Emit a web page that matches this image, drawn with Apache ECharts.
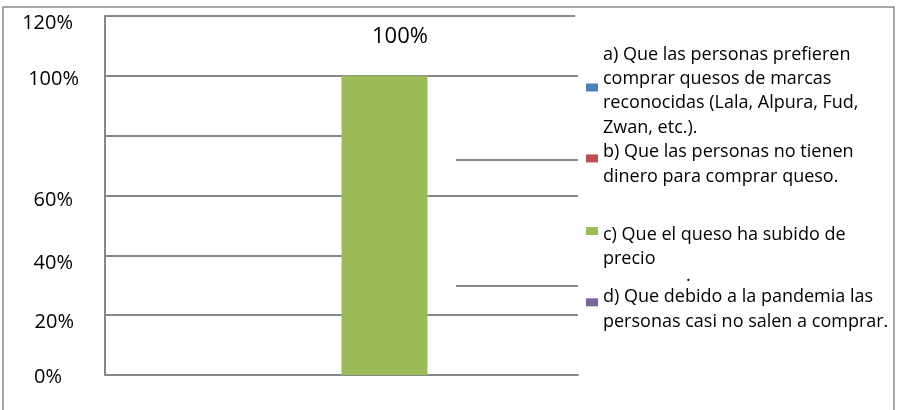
<!DOCTYPE html>
<html>
<head>
<meta charset="utf-8">
<script src="https://cdn.jsdelivr.net/npm/echarts@6/dist/echarts.min.js"></script>
<style>
  html, body { margin: 0; padding: 0; background: #fff; }
  #chart { width: 898px; height: 410px; }
</style>
</head>
<body>
<div id="chart"></div>
<script>
// Survey answers: why cheese sales dropped
const categories = ['Respuesta'];
const optionLabels = [
  'a) Que las personas prefieren\ncomprar quesos de marcas\nreconocidas (Lala, Alpura, Fud,\nZwan, etc.).',
  'b) Que las personas no tienen\ndinero para comprar queso.',
  'c) Que el queso ha subido de\nprecio',
  'd) Que debido a la pandemia las\npersonas casi no salen a comprar.'
];
const optionShares = [0, 0, 100, 0];
const optionColors = ['#4F81BD', '#C0504D', '#9BBB59', '#8064A2'];
const yTickValues = [0, 20, 40, 60, 80, 100, 120];
const yTickLabels = ['0%', '20%', '40%', '60%', '', '100%', '120%'];

const FONT = "'Open Sans', sans-serif";
const GRID_COLOR = '#878787';

// per-tick label nudges [dx, dy] in px
const tickNudge = { 0: [-12, 2], 20: [0, 7], 40: [-1, 7.5], 60: [-1, 4.5], 100: [5, 3.5], 120: [-1, 7] };
const BASE_RIGHT_PAD = 12;
const tickRich = {};
yTickValues.forEach(v => {
  const n = tickNudge[v] || [0, 0];
  tickRich['t' + v] = {
    fontFamily: FONT, fontSize: 20, color: '#000',
    padding: [Math.max(0, 2 * n[1]), BASE_RIGHT_PAD - n[0], Math.max(0, -2 * n[1]), 0]
  };
});

// horizontal rules of the plot area, in (fraction of width, percent) units
const ruleSegments = [
  [[0, 20], [1, 20]],
  [[0, 40], [0.55, 40]],
  [[0, 60], [1, 60]],
  [[0, 80], [0.55, 80]],
  [[0, 100], [1, 100]],
  [[0, 120], [0.994, 120]],
  [[0.742, 29.7], [1, 29.7]],
  [[0.742, 71.9], [1, 71.9]]
];

// legend blocks: swatch centre and how far the text sits below it
const LEGEND_LINE = 24.4;
const legendLayout = [
  { center: 87.5, drop: 3.5 },
  { center: 158.4, drop: 6 },
  { center: 231, drop: 16 },
  { center: 302.3, drop: 7 }
];

const chart = echarts.init(document.getElementById('chart'));

const barSeries = optionLabels.map((name, i) => ({
  name: name,
  type: 'bar',
  xAxisIndex: 0,
  data: [optionShares[i]],
  barGap: '0%',
  barCategoryGap: '27.27%',
  itemStyle: { color: optionColors[i] },
  z: 2,
  label: {
    show: true,
    position: 'top',
    distance: 28,
    offset: [15.5, 0],
    fontFamily: FONT,
    fontSize: 22,
    color: '#000',
    formatter: p => (p.value ? p.value + '%' : '')
  }
}));

const legends = optionLabels.map((name, i) => {
  const lay = legendLayout[i];
  const lines = name.split('\n').length;
  const spacer = 2 * lay.drop;
  const blockHeight = spacer + lines * LEGEND_LINE;
  return {
    data: [name],
    left: 586,
    top: lay.center - blockHeight / 2,
    orient: 'vertical',
    padding: 0,
    itemWidth: 12,
    itemHeight: 8,
    itemGap: 0,
    icon: 'rect',
    selectedMode: false,
    formatter: n => '{pad| }\n' + n,
    textStyle: {
      fontFamily: FONT,
      fontSize: 18,
      lineHeight: LEGEND_LINE,
      color: '#000',
      rich: {
        pad: { fontSize: 2, lineHeight: spacer, height: spacer }
      }
    }
  };
});

chart.setOption({
  animation: false,
  backgroundColor: '#fff',
  grid: { left: 105, right: 320, top: 16, bottom: 35, containLabel: false },
  xAxis: [
    {
      type: 'category',
      data: categories,
      axisLine: { show: true, lineStyle: { color: GRID_COLOR, width: 2 } },
      axisTick: { show: false },
      axisLabel: { show: false },
      splitLine: { show: false }
    },
    { type: 'value', min: 0, max: 1, show: false }
  ],
  yAxis: {
    type: 'value',
    min: 0,
    max: 120,
    interval: 20,
    axisLine: { show: true, lineStyle: { color: GRID_COLOR, width: 2 } },
    axisTick: { show: false },
    splitLine: { show: false },
    axisLabel: {
      margin: 31 - BASE_RIGHT_PAD,
      fontFamily: FONT,
      fontSize: 20,
      color: '#000',
      formatter: v => {
        const s = yTickLabels[yTickValues.indexOf(v)];
        return s ? '{t' + v + '|' + s + '}' : '';
      },
      rich: tickRich
    }
  },
  legend: legends,
  graphic: [
    {
      type: 'polyline',
      silent: true,
      shape: { points: [[3, 410], [3, 7], [894, 7], [894, 410]] },
      style: { stroke: '#8a8a8a', lineWidth: 1.5, fill: null }
    },
    {
      type: 'text',
      left: 686,
      top: 267,
      silent: true,
      style: { text: '.', font: '18px ' + FONT, fill: '#000' }
    },
    {
      type: 'rect',
      silent: true,
      z: 100,
      shape: { x: 25, y: 384, width: 60, height: 12 },
      style: { fill: '#fff' }
    }
  ],
  series: [
    {
      type: 'lines',
      coordinateSystem: 'cartesian2d',
      xAxisIndex: 1,
      yAxisIndex: 0,
      silent: true,
      z: 1,
      lineStyle: { color: GRID_COLOR, width: 2, opacity: 1 },
      data: ruleSegments.map(s => ({ coords: s }))
    }
  ].concat(barSeries)
});
</script>
</body>
</html>
